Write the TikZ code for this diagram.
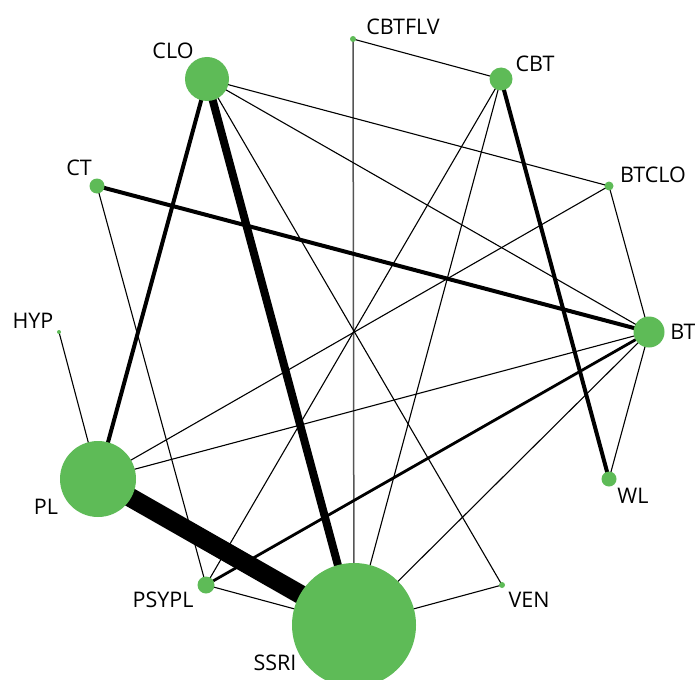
\documentclass[tikz,border=0pt]{standalone}
\usepackage{fontspec}
\setsansfont{Open Sans}
\usetikzlibrary{backgrounds}
\definecolor{nodegreen}{HTML}{5EBB57}
\definecolor{edgegray}{HTML}{555555}

\begin{document}
\begin{tikzpicture}[
		x=1pt, y=-1pt,
		font=\sffamily\fontsize{21.5}{24}\selectfont,
		trt/.style={circle, fill=nodegreen, inner sep=0pt, minimum size=#1},
		lbl/.style={inner sep=0pt, text=black},
		lnk/.style={line width=#1, black},
		lnk/.default=1.1pt,
		]
		\path[use as bounding box, clip] (0,0) rectangle (695,679);

		\node[trt=6pt]   (cbtflv) at (353,39)  {};
		\node[trt=23pt]  (cbt)    at (501,79)  {};
		\node[trt=9pt]   (btclo)  at (609,186) {};
		\node[trt=31pt]  (bt)     at (649,332) {};
		\node[trt=15pt]  (wl)     at (609,479) {};
		\node[trt=6pt]   (ven)    at (502,585) {};
		\node[trt=124pt] (ssri)   at (354,625) {};
		\node[trt=17pt]  (psypl)  at (206,585) {};
		\node[trt=76pt]  (pl)     at (98,479)  {};
		\node[trt=4pt]   (hyp)    at (59,332)  {};
		\node[trt=15pt]  (ct)     at (97,186)  {};
		\node[trt=44pt]  (clo)    at (207,79)  {};

		\node[lbl] (l-cbtflv) at (403,27)  {CBTFLV};
		\node[lbl] (l-cbt)    at (535,64)  {CBT};
		\node[lbl] (l-btclo)  at (653,175) {BTCLO};
		\node[lbl] (l-bt)     at (683,332) {BT};
		\node[lbl] (l-wl)     at (633,496) {WL};
		\node[lbl] (l-ven)    at (529,600) {VEN};
		\node[lbl] (l-ssri)   at (275,663) {SSRI};
		\node[lbl] (l-psypl)  at (163,600) {PSYPL};
		\node[lbl] (l-pl)     at (46,507)  {PL};
		\node[lbl] (l-hyp)    at (33,321)  {HYP};
		\node[lbl] (l-ct)     at (79,168)  {CT};
		\node[lbl] (l-clo)    at (173,51)  {CLO};

		\begin{scope}[on background layer]
			\draw[lnk] (cbtflv.center) -- (cbt.center);
			\draw[lnk=1.5pt, edgegray] (cbtflv.center) -- (ssri.center);
			\draw[lnk=4pt] (cbt.center) -- (wl.center);
			\draw[lnk] (cbt.center) -- (psypl.center);
			\draw[lnk] (cbt.center) -- (ssri.center);
			\draw[lnk] (clo.center) -- (btclo.center);
			\draw[lnk] (clo.center) -- (bt.center);
			\draw[lnk] (clo.center) -- (ven.center);
			\draw[lnk=4pt] (clo.center) -- (pl.center);
			\draw[lnk=8pt] (clo.center) -- (ssri.center);
			\draw[lnk=4pt] (ct.center) -- (bt.center);
			\draw[lnk] (ct.center) -- (psypl.center);
			\draw[lnk] (hyp.center) -- (pl.center);
			\draw[lnk] (btclo.center) -- (bt.center);
			\draw[lnk] (btclo.center) -- (pl.center);
			\draw[lnk] (bt.center) -- (wl.center);
			\draw[lnk] (bt.center) -- (pl.center);
			\draw[lnk=2.8pt] (bt.center) -- (psypl.center);
			\draw[lnk] (bt.center) -- (ssri.center);
			\draw[lnk=19pt] (pl.center) -- (ssri.center);
			\draw[lnk] (psypl.center) -- (ssri.center);
			\draw[lnk] (ssri.center) -- (ven.center);
		\end{scope}

	\end{tikzpicture}
\end{document}
